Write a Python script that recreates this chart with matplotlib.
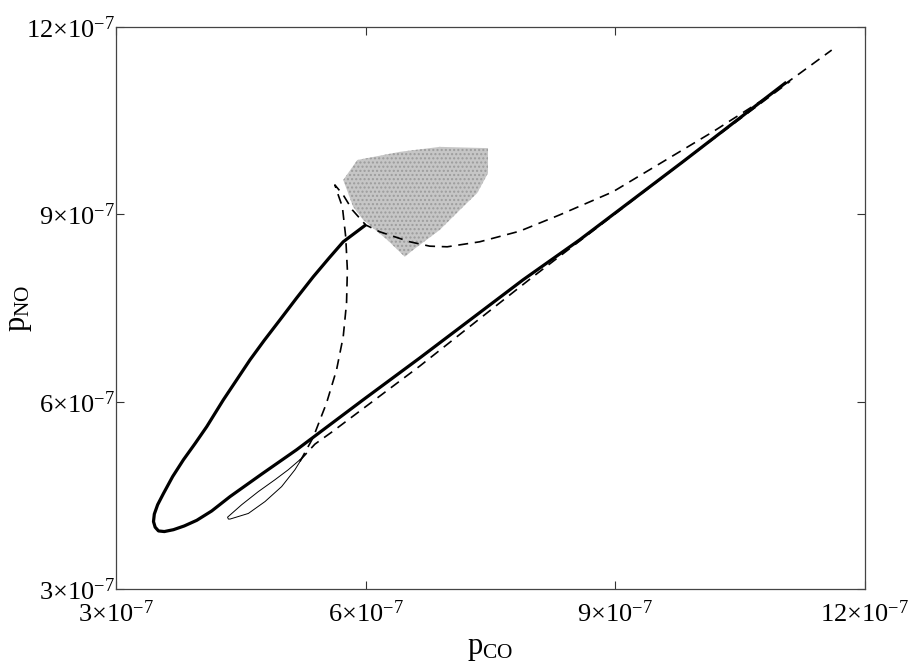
import numpy as np
import matplotlib
matplotlib.use('Agg')
import matplotlib.pyplot as plt

plt.rcParams['font.family'] = ['Liberation Serif', 'DejaVu Serif']
plt.rcParams['mathtext.fontset'] = 'stix'

# all values in units of 1e-7
# thick solid loop: upper branch (from its end) -> tip -> lower branch
solid_x = [5.99, 5.88, 5.73, 5.56, 5.37, 5.17, 4.97, 4.78, 4.61, 4.45, 4.29, 4.09, 3.95,
           3.81, 3.68, 3.57, 3.50, 3.46, 3.45, 3.47, 3.51, 3.58, 3.69, 3.82, 3.97, 4.15,
           4.37, 4.75, 5.17, 5.97, 6.65, 7.89, 8.57, 9.80, 11.04]
solid_y = [8.82, 8.71, 8.56, 8.30, 8.00, 7.66, 7.31, 6.98, 6.67, 6.35, 6.03, 5.60, 5.33,
           5.07, 4.80, 4.53, 4.35, 4.20, 4.08, 3.99, 3.93, 3.92, 3.95, 4.01, 4.10, 4.25,
           4.48, 4.84, 5.23, 6.03, 6.70, 7.95, 8.59, 9.83, 11.10]

# thin small loop
loop_x = [5.21, 5.07, 4.91, 4.71, 4.51, 4.34, 4.35, 4.37, 4.59, 4.79, 4.99, 5.15, 5.21]
loop_y = [5.07, 4.91, 4.75, 4.56, 4.35, 4.15, 4.12, 4.12, 4.21, 4.40, 4.64, 4.91, 5.04]

# dashed curve running close below the solid straight branch
dash1_x = [5.21, 5.39, 5.60, 5.93, 6.65, 7.40, 8.00, 9.00, 10.00, 11.10]
dash1_y = [5.06, 5.32, 5.52, 5.85, 6.57, 7.36, 7.99, 9.01, 10.03, 11.13]

# dashed curve: up along the near-vertical branch, cusp, then right and up
dash2_x = [5.21, 5.37, 5.53, 5.65, 5.73, 5.77, 5.78, 5.76, 5.72, 5.67, 5.63, 5.73, 5.84,
           6.00, 6.17, 6.53, 6.77, 6.98, 7.37, 7.85, 8.33, 8.97, 9.57, 10.17, 10.77,
           11.22, 11.60]
dash2_y = [5.04, 5.43, 5.98, 6.51, 7.04, 7.58, 8.11, 8.64, 9.12, 9.31, 9.47, 9.31, 9.07,
           8.83, 8.72, 8.56, 8.49, 8.48, 8.56, 8.73, 8.99, 9.36, 9.84, 10.32, 10.83,
           11.26, 11.63]

# grey stippled region outline
region_x = [5.73, 5.90, 6.41, 6.89, 7.47, 7.47, 7.34, 7.17, 6.89, 6.57, 6.47, 6.26, 5.97, 5.85]
region_y = [9.55, 9.87, 10.00, 10.08, 10.06, 9.66, 9.34, 9.12, 8.75, 8.43, 8.32, 8.59, 8.91, 9.12]

ticks = [3, 6, 9, 12]
tick_labels = [r'$\mathregular{%d{\times}10^{-7}}$' % t for t in ticks]

s = 1e-7
fig = plt.figure(figsize=(9.08, 6.66), dpi=100)
ax = fig.add_axes([0.1278, 0.1156, 0.8248, 0.8439])

ax.fill(np.array(region_x) * s, np.array(region_y) * s, facecolor='#c6c6c6',
        edgecolor='#9c9c9c', hatch='....', linewidth=0, zorder=1)

ax.plot(np.array(solid_x) * s, np.array(solid_y) * s, color='black', lw=2.3, zorder=3)
ax.plot(np.array(loop_x) * s, np.array(loop_y) * s, color='black', lw=0.7, zorder=3)
ax.plot(np.array(dash1_x) * s, np.array(dash1_y) * s, color='black', lw=1.2,
        dashes=(6, 4), zorder=2)
ax.plot(np.array(dash2_x) * s, np.array(dash2_y) * s, color='black', lw=1.2,
        dashes=(6, 4), zorder=2)

ax.set_xlim(3 * s, 12 * s)
ax.set_ylim(3 * s, 12 * s)
ax.set_xticks([t * s for t in ticks])
ax.set_xticklabels(tick_labels)
ax.set_yticks([t * s for t in ticks])
ax.set_yticklabels(tick_labels)

ax.tick_params(direction='in', length=6, width=0.8, top=True, right=True,
               labelsize=19, color='#333333')
ax.tick_params(axis='x', pad=8)
ax.tick_params(axis='y', pad=1)
for sp in ax.spines.values():
    sp.set_linewidth(0.9)
    sp.set_color('#444444')

ax.set_xlabel(r'$\mathregular{p_{CO}}$', fontsize=22, labelpad=5)
ax.set_ylabel(r'$\mathregular{p_{NO}}$', fontsize=22, labelpad=-6)

fig.savefig('out.png', dpi=100)
